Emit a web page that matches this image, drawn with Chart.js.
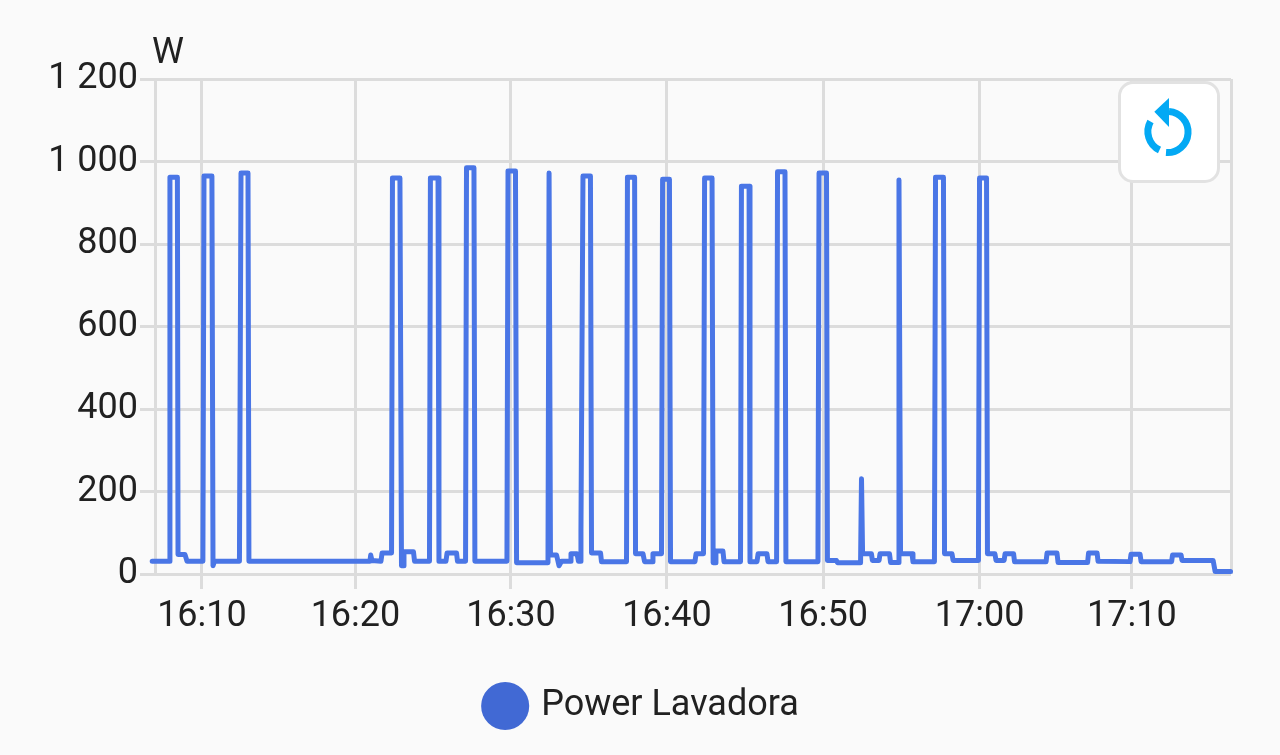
<!DOCTYPE html>
<html>
<head>
<meta charset="utf-8">
<style>
html,body{margin:0;padding:0;background:#fafafa;width:1280px;height:755px;overflow:hidden}
#wrap{position:relative;width:1280px;height:755px}
canvas{display:block}
#btn{position:absolute;left:1118px;top:81px;width:96px;height:96px;background:#fff;border:3px solid #e2e2e2;border-radius:15px;box-sizing:content-box}
#btn svg{position:absolute;left:-3px;top:-3px}
</style>
<script src="https://cdn.jsdelivr.net/npm/chart.js@4"></script>
</head>
<body>
<div id="wrap">
<canvas id="c" width="1280" height="755"></canvas>
<div id="btn"><svg width="102" height="102" viewBox="1118 81 102 102">
<path d="M1169 111.5 A20.5 20.5 0 1 1 1166 152.5" fill="none" stroke="#03a9f4" stroke-width="7"/>
<path d="M1159.5 150 A20.5 20.5 0 0 1 1150.5 121.5" fill="none" stroke="#03a9f4" stroke-width="7"/>
<path d="M1169 98 L1154.3 111.7 L1169 127 Z" fill="#03a9f4"/>
</svg></div>
</div>
<script>
const seriesName = 'Power Lavadora';
const unitLabel = 'W';
// minutes after 16:00
const minutes = [6.8,7.91,7.94,8.42,8.46,8.91,9.04,10.06,10.13,10.64,10.71,10.80,12.41,12.51,12.96,13.02,20.80,20.85,20.93,21.51,21.58,22.19,22.25,22.73,22.83,22.93,22.99,23.60,23.67,24.63,24.69,25.18,25.24,25.69,25.76,26.37,26.43,26.95,27.01,27.49,27.55,29.61,29.68,30.16,30.23,32.25,32.32,32.41,32.80,32.96,33.12,33.67,33.73,34.12,34.21,34.31,34.37,34.50,34.98,35.05,35.63,35.69,37.30,37.36,37.82,37.88,38.36,38.46,38.94,39.00,39.55,39.62,40.06,40.13,41.70,41.77,42.25,42.32,42.80,42.87,42.99,43.05,43.50,43.57,44.63,44.69,45.18,45.24,45.69,45.76,46.33,46.40,46.95,47.01,47.49,47.55,49.61,49.68,50.16,50.22,50.80,50.87,52.35,52.41,52.48,53.05,53.11,53.54,53.60,54.21,54.28,54.76,54.82,54.92,55.66,55.72,57.10,57.17,57.68,57.75,58.23,58.30,59.93,60.00,60.45,60.51,60.99,61.06,61.58,61.64,62.19,62.25,64.28,64.34,64.98,65.05,66.95,67.01,67.56,67.62,69.68,69.74,70.32,70.39,72.35,72.41,72.96,73.02,75.02,75.15,76.14];
const watts = [31,31,962,962,47,47,31,31,965,965,20,31,31,972,972,31,31,46,33,31,51,51,960,960,20,20,54,54,31,31,960,960,31,31,51,51,31,31,985,985,31,31,977,977,27,27,972,46,46,20,31,31,49,49,31,31,103,965,965,51,51,30,30,962,962,49,49,30,30,49,49,957,957,30,30,49,49,960,960,27,27,56,56,30,30,940,940,30,30,49,49,30,30,975,975,30,30,972,972,33,33,27,27,231,49,49,33,33,49,49,28,28,955,49,49,30,30,962,962,49,49,33,33,960,960,49,49,33,33,49,49,30,30,51,51,28,28,51,51,31,30,48,48,30,30,46,46,33,33,6,6];
const tickMinutes = [6.98,10,19.87,29.87,39.9,49.94,60,69.8,76.17];
const tickLabels = ['','16:10','16:20','16:30','16:40','16:50','17:00','17:10',''];
const yTicks = [0,200,400,600,800,1000,1200];

const FONT = 'Roboto';
const TEXT = '#212121';
const GRID = '#dcdcdc';
const points = minutes.map((m,i)=>({x:m,y:watts[i]}));

const placeBlocks = {id:'placeBlocks',afterLayout(ch){
  ch.legend.left=6;ch.legend.right=ch.width;
  ch.titleBlock.left-=3;ch.titleBlock.right-=3;
}};

new Chart(document.getElementById('c'),{
  type:'line',
  plugins:[placeBlocks],
  data:{datasets:[{
    label:seriesName,data:points,
    borderColor:'#4a76e6',backgroundColor:'#4169d4',
    borderWidth:5,pointRadius:0,tension:0,fill:false,clip:false,
    borderJoinStyle:'round',borderCapStyle:'round'
  }]},
  options:{
    responsive:false,animation:false,
    layout:{padding:{left:0,right:49,top:32,bottom:21}},
    plugins:{
      tooltip:{enabled:false},
      title:{display:true,text:unitLabel,align:'start',fullSize:false,color:TEXT,
        font:{family:FONT,size:36,weight:'normal',lineHeight:1.2},padding:{top:0,bottom:3.8}},
      legend:{position:'bottom',
        labels:{usePointStyle:true,boxHeight:34,boxWidth:36,padding:10,color:TEXT,
          font:{family:FONT,size:36},
          generateLabels(ch){return ch.data.datasets.map((d,i)=>({text:d.label,fillStyle:d.backgroundColor,strokeStyle:d.backgroundColor,lineWidth:0,pointStyle:'circle',datasetIndex:i,fontColor:TEXT}));}
        }}
    },
    scales:{
      x:{type:'linear',min:tickMinutes[0],max:tickMinutes[tickMinutes.length-1],
        afterBuildTicks(s){s.ticks=tickMinutes.map(v=>({value:v}));},
        afterFit(s){s.height=104;},
        grid:{color:GRID,lineWidth:3,tickLength:15,drawTicks:true,
          tickColor(c){const i=c.index;return (i===0||i===tickMinutes.length-1)?'rgba(0,0,0,0)':GRID;}},
        border:{display:false},
        ticks:{autoSkip:false,maxRotation:0,minRotation:0,padding:6,color:TEXT,
          font:{family:FONT,size:36},
          callback(v,i){return tickLabels[i];}}
      },
      y:{type:'linear',min:0,max:1200,
        afterBuildTicks(s){s.ticks=yTicks.map(v=>({value:v}));},
        afterFit(s){s.width=155;},
        grid:{color:GRID,lineWidth:3,tickLength:15,tickColor:GRID},
        border:{display:false},
        ticks:{padding:2,color:TEXT,font:{family:FONT,size:36},
          callback(v){return String(v).replace(/\B(?=(\d{3})+$)/g,' ');}}
      }
    }
  }
});
</script>
</body>
</html>
